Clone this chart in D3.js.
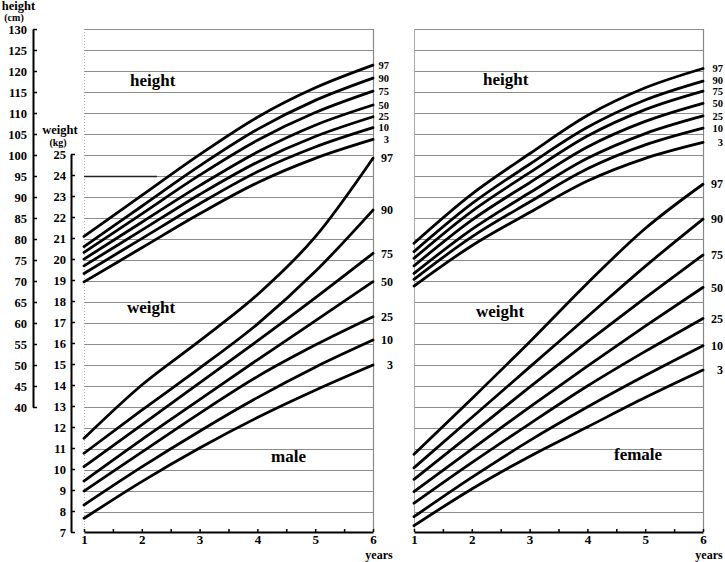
<!DOCTYPE html>
<html><head><meta charset="utf-8">
<script src="https://cdn.jsdelivr.net/npm/d3@7"></script>
<style>
body{margin:0;background:#fff}
svg{display:block}
text{font-family:"Liberation Serif","Times New Roman",serif;font-weight:bold;fill:#000}
</style>
</head><body>
<svg id="chart" width="725" height="562"></svg>
<script>
// ---------- data ----------
const ages = [1, 2, 3, 4, 5, 6];
const percentiles = ["97", "90", "75", "50", "25", "10", "3"];
const heightTicks = [40, 45, 50, 55, 60, 65, 70, 75, 80, 85, 90, 95, 100, 105, 110, 115, 120, 125, 130];
const weightTicks = [7, 8, 9, 10, 11, 12, 13, 14, 15, 16, 17, 18, 19, 20, 21, 22, 23, 24, 25];
const ageTicks = [1, 1.5, 2, 2.5, 3, 3.5, 4, 4.5, 5, 5.5, 6];
const gridHeights = [15, 20, 25, 30, 35, 40, 45, 50, 55, 60, 65, 70, 75, 80, 85, 90, 95, 100, 105, 110, 115, 120, 125, 130];

// height (cm) per percentile (97..3), at ages 1..6
const maleHeight = [
  [80.6, 90.4, 100.1, 109.0, 116.0, 121.4],
  [78.2, 87.8, 97.4, 106.1, 113.0, 118.3],
  [76.8, 86.0, 95.2, 103.5, 110.1, 115.2],
  [75.2, 84.0, 92.7, 100.7, 107.1, 111.9],
  [73.6, 82.1, 90.6, 98.3, 104.4, 109.1],
  [71.8, 80.1, 88.4, 96.0, 101.9, 106.5],
  [69.8, 77.9, 86.0, 93.4, 99.2, 103.7]
];
// weight (kg) per percentile (97..3), at ages 1..6
const maleWeight = [
  [11.46, 14.0, 16.1, 18.3, 21.05, 24.8],
  [10.75, 12.8, 14.8, 16.9, 19.4, 22.33],
  [10.11, 12.1, 14.1, 16.1, 18.15, 20.27],
  [9.43, 11.4, 13.3, 15.2, 17.05, 18.92],
  [8.95, 10.8, 12.65, 14.4, 15.9, 17.25],
  [8.29, 10.1, 11.8, 13.4, 14.85, 16.14],
  [7.65, 9.4, 11.0, 12.45, 13.75, 14.95]
];
const femaleHeight = [
  [79.0, 90.7, 100.3, 109.4, 116.0, 120.6],
  [77.0, 88.4, 97.8, 106.6, 113.1, 117.6],
  [75.4, 86.6, 95.8, 104.5, 110.8, 115.2],
  [73.6, 84.5, 93.4, 101.9, 108.0, 112.3],
  [71.8, 82.3, 91.0, 99.2, 105.1, 109.3],
  [70.4, 80.5, 88.8, 96.7, 102.4, 106.4],
  [68.8, 78.4, 86.3, 93.8, 99.2, 103.0]
];
const femaleWeight = [
  [10.7, 13.35, 16.05, 18.85, 21.45, 23.56],
  [10.06, 12.45, 14.85, 17.25, 19.65, 21.9],
  [9.51, 11.7, 13.9, 16.05, 18.15, 20.19],
  [8.92, 10.95, 12.95, 14.9, 16.8, 18.65],
  [8.37, 10.3, 12.15, 13.95, 15.6, 17.17],
  [7.73, 9.6, 11.35, 12.95, 14.45, 15.87],
  [7.3, 9.05, 10.6, 12.0, 13.4, 14.71]
];

// ---------- layout ----------
const svg = d3.select("#chart");
svg.append("rect").attr("width", 725).attr("height", 562).attr("fill", "#fff");

const yH = d3.scaleLinear().domain([40, 130]).range([407, 29]);
const yW = d3.scaleLinear().domain([7, 25]).range([532, 154]);

const panels = [
  { name: "male", x: d3.scaleLinear().domain([1, 6]).range([84, 373]), h: maleHeight, w: maleWeight,
    hLab: 16, wLab: 20, leftDash: "1,2", tH: [130, 86], tW: [127, 313], tS: [271, 462] },
  { name: "female", x: d3.scaleLinear().domain([1, 6]).range([414, 703]), h: femaleHeight, w: femaleWeight,
    hLab: 20, wLab: 20, leftDash: null, tH: [483, 85], tW: [476, 317], tS: [614, 460] }
];

const line = (x, y, curve) => d3.line().x((d, i) => x(ages[i])).y(d => y(d)).curve(curve);

// spread label positions so that neighbours keep a minimum gap
function spread(ys, gap) {
  const out = ys.slice();
  for (let it = 0; it < 20; it++) {
    for (let i = 1; i < out.length; i++) {
      const d = out[i] - out[i - 1];
      if (d < gap) { const m = (gap - d) / 2; out[i - 1] -= m; out[i] += m; }
    }
  }
  return out;
}

panels.forEach(p => {
  const x = p.x, [x0, x1] = x.range();
  const g = svg.append("g");
  // grid
  g.selectAll("line.grid").data(gridHeights).join("line")
    .attr("x1", x0).attr("x2", x1)
    .attr("y1", d => Math.round(yH(d)) + 0.5).attr("y2", d => Math.round(yH(d)) + 0.5)
    .attr("stroke", "#8c8c8c").attr("stroke-width", 1);
  // borders
  g.append("line").attr("x1", x0 + 0.5).attr("x2", x0 + 0.5).attr("y1", yH(130)).attr("y2", yW(7))
    .attr("stroke", "#aaa").attr("stroke-width", 1).attr("stroke-dasharray", p.leftDash);
  g.append("line").attr("x1", x1 + 0.5).attr("x2", x1 + 0.5).attr("y1", yH(130)).attr("y2", yW(7))
    .attr("stroke", "#888").attr("stroke-width", 1.2);
  // bottom axis
  const ax = g.append("g").attr("transform", `translate(0,${yW(7)})`)
    .call(d3.axisBottom(x).tickValues(ageTicks).tickSizeInner(-3).tickSizeOuter(0).tickPadding(3)
      .tickFormat(d => Number.isInteger(d) ? d : ""));
  ax.select(".domain").attr("stroke", "#000").attr("stroke-width", 2);
  ax.selectAll(".tick line").attr("stroke", "#000").attr("stroke-width", 1.5);
  ax.selectAll("text").attr("font-size", 13).style("font-family", '"Liberation Serif",serif').style("font-weight", "bold");
  g.append("text").attr("x", x1 + 6).attr("y", 559).attr("text-anchor", "middle").attr("font-size", 12).text("years");

  // curves
  const hy = spread(p.h.map(v => yH(v[v.length - 1])), 11);
  const wy = spread(p.w.map(v => yW(v[v.length - 1])), 12);
  p.h.forEach((vals, i) => {
    g.append("path").datum(vals).attr("d", line(x, yH, d3.curveCatmullRom.alpha(0.5))).attr("fill", "none")
      .attr("stroke", "#000").attr("stroke-width", 2.8).attr("stroke-linecap", "round");
    g.append("text").attr("x", x1 + p.hLab).attr("y", hy[i]).attr("dy", "0.35em")
      .attr("text-anchor", "end").attr("font-size", 10.5).text(percentiles[i]);
  });
  p.w.forEach((vals, i) => {
    g.append("path").datum(vals).attr("d", line(x, yW, d3.curveMonotoneX)).attr("fill", "none")
      .attr("stroke", "#000").attr("stroke-width", 2.8).attr("stroke-linecap", "round");
    g.append("text").attr("x", x1 + p.wLab).attr("y", wy[i]).attr("dy", "0.35em")
      .attr("text-anchor", "end").attr("font-size", 12).text(percentiles[i]);
  });

  // panel titles
  g.append("text").attr("x", p.tH[0]).attr("y", p.tH[1]).attr("font-size", 17).text("height");
  g.append("text").attr("x", p.tW[0]).attr("y", p.tW[1]).attr("font-size", 17).text("weight");
  g.append("text").attr("x", p.tS[0]).attr("y", p.tS[1]).attr("font-size", 17).text(p.name);
});

// dark segment on the 95 cm line of the left panel
svg.append("line").attr("x1", 84).attr("x2", 157).attr("y1", Math.round(yH(95)) + 0.5).attr("y2", Math.round(yH(95)) + 0.5)
  .attr("stroke", "#222").attr("stroke-width", 1.5);

// ---------- left axes ----------
const hAx = svg.append("g").attr("transform", "translate(33,0)")
  .call(d3.axisLeft(yH).tickValues(heightTicks).tickSizeInner(-4).tickSizeOuter(0).tickPadding(6));
const wAx = svg.append("g").attr("transform", "translate(71,0)")
  .call(d3.axisLeft(yW).tickValues(weightTicks).tickSizeInner(-4).tickSizeOuter(0).tickPadding(5));
[hAx, wAx].forEach(a => {
  a.select(".domain").attr("stroke", "#000").attr("stroke-width", 2);
  a.selectAll(".tick line").attr("stroke", "#000").attr("stroke-width", 1.5);
  a.selectAll("text").attr("font-size", 12.5).style("font-family", '"Liberation Serif",serif').style("font-weight", "bold");
});

svg.append("text").attr("x", 18.5).attr("y", 10).attr("text-anchor", "middle").attr("font-size", 12.5).text("height");
svg.append("text").attr("x", 14).attr("y", 21).attr("text-anchor", "middle").attr("font-size", 10).text("(cm)");
svg.append("text").attr("x", 60).attr("y", 134).attr("text-anchor", "middle").attr("font-size", 12.5).text("weight");
svg.append("text").attr("x", 58).attr("y", 146).attr("text-anchor", "middle").attr("font-size", 10).text("(kg)");
</script>
</body></html>
